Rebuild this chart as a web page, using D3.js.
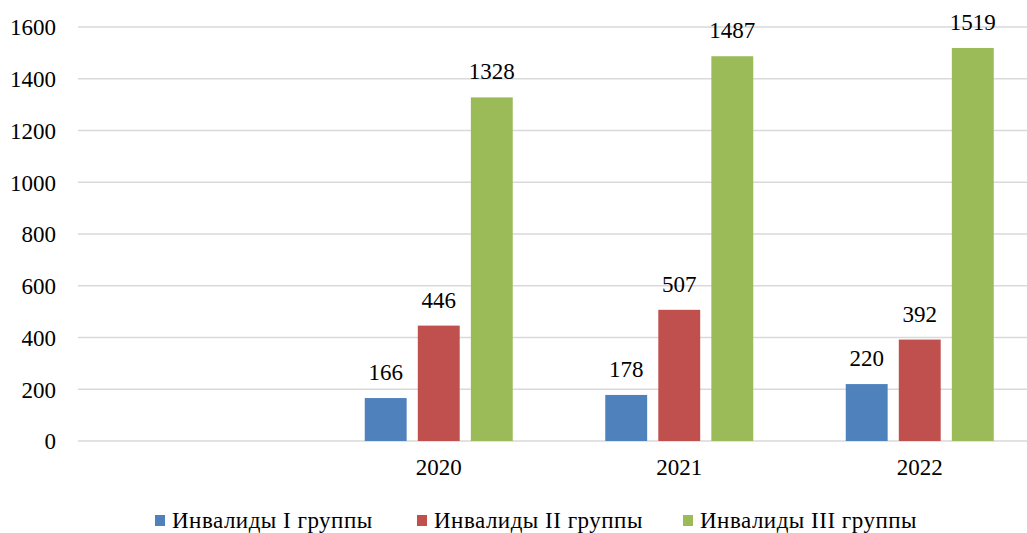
<!DOCTYPE html>
<html><head><meta charset="utf-8">
<script src="https://cdn.jsdelivr.net/npm/d3@7"></script>
<style>
html,body{margin:0;padding:0;background:#fff;}
</style></head>
<body>
<svg id="chart" width="1027" height="533" style="display:block"></svg>
<script>
const categories = ["", "2020", "2021", "2022"];
const seriesNames = ["Инвалиды I группы", "Инвалиды II группы", "Инвалиды III группы"];
const group1 = [null, 166, 178, 220];
const group2 = [null, 446, 507, 392];
const group3 = [null, 1328, 1487, 1519];
const yTicks = [0, 200, 400, 600, 800, 1000, 1200, 1400, 1600];
const colors = ["#4f81bd", "#c0504d", "#9bbb59"];

(function () {
const series = [group1, group2, group3];
const svg = d3.select("#chart");
const plotLeft = 78, plotRight = 1040, plotTop = 27, plotBottom = 441;
const FS = 23;
const FF = "Liberation Serif";

const x0 = d3.scaleBand().domain(categories).range([plotLeft, plotRight]).paddingInner(0).paddingOuter(0);
const groupW = 148;
const x1 = d3.scaleBand().domain(seriesNames).range([0, groupW]).paddingInner(0.21).paddingOuter(0);
const y = d3.scaleLinear().domain([0, 1600]).range([plotBottom, plotTop]);

// gridlines
svg.append("g").selectAll("line").data(yTicks).join("line")
  .attr("x1", plotLeft).attr("x2", 1027)
  .attr("y1", d => y(d)).attr("y2", d => y(d))
  .attr("stroke", "#d9d9d9").attr("stroke-width", 1.5);

// y axis labels
const yAxis = d3.axisLeft(y).tickValues(yTicks).tickFormat(d3.format("d")).tickSize(0).tickPadding(0);
const ya = svg.append("g").attr("transform", `translate(56,0)`).call(yAxis);
ya.attr("font-family", FF).attr("font-size", FS);
ya.select(".domain").remove();
ya.selectAll("text").attr("font-family", FF).attr("font-size", FS).attr("fill", "#000").attr("dy", "0.34em");

// x axis labels
const xAxis = d3.axisBottom(x0).tickSize(0).tickPadding(0);
const xa = svg.append("g").attr("transform", `translate(0,${plotBottom + 18})`).call(xAxis);
xa.attr("font-family", FF).attr("font-size", FS);
xa.select(".domain").remove();
xa.selectAll("text").attr("font-family", FF).attr("font-size", FS).attr("fill", "#000");

// bars
seriesNames.forEach((name, si) => {
  const vals = series[si];
  const g = svg.append("g");
  const data = categories.map((c, i) => ({c, v: vals[i]})).filter(d => d.v != null);
  const bx = d => x0(d.c) + (x0.bandwidth() - groupW) / 2 + x1(name);
  g.selectAll("rect").data(data).join("rect")
    .attr("x", bx).attr("width", x1.bandwidth())
    .attr("y", d => y(d.v)).attr("height", d => y(0) - y(d.v))
    .attr("fill", colors[si]);
  g.selectAll("text").data(data).join("text")
    .attr("x", d => bx(d) + x1.bandwidth() / 2)
    .attr("y", d => y(d.v) - 18)
    .attr("text-anchor", "middle")
    .attr("font-family", FF).attr("font-size", FS).attr("fill", "#000")
    .text(d => d.v);
});

// legend
const legendX = [155, 417, 683];
const lg = svg.append("g");
seriesNames.forEach((name, i) => {
  lg.append("rect").attr("x", legendX[i]).attr("y", 515).attr("width", 10).attr("height", 11).attr("fill", colors[i]);
  lg.append("text").attr("x", legendX[i] + 17).attr("y", 528)
    .attr("font-family", FF).attr("font-size", FS).attr("letter-spacing", 0.5)
    .attr("fill", "#000").text(name);
});
})();
</script>
</body></html>
